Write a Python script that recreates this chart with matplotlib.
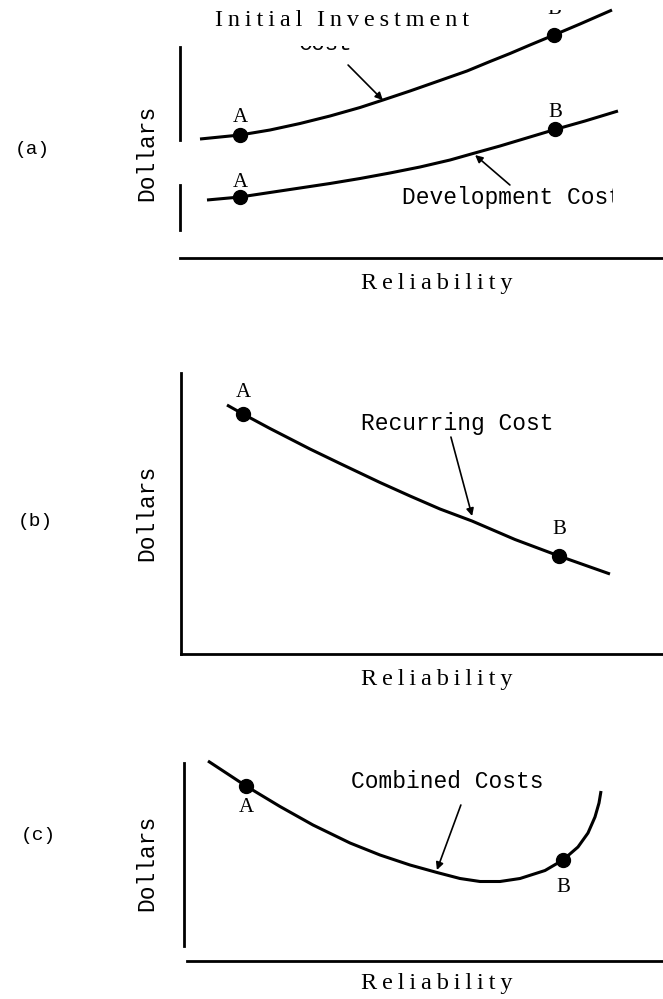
import matplotlib
matplotlib.use('Agg')
import matplotlib.pyplot as plt
from matplotlib.transforms import Bbox, TransformedBbox

# values, axes units 0-100 (reliability, dollars)
inv_rel = [4.14, 12.42, 18.63, 24.84, 31.06, 37.27, 42.03, 47.62, 53.83, 59.42,
           64.18, 68.32, 72.46, 77.43, 82.82, 89.44]
inv_cost = [46.12, 47.67, 49.61, 52.13, 55.04, 58.33, 61.24, 64.73, 68.80, 72.48,
            76.16, 79.26, 82.56, 86.43, 90.70, 96.12]
dev_rel = [5.59, 12.42, 18.63, 24.84, 31.06, 37.27, 43.48, 49.69, 55.90, 60.66,
           66.25, 72.46, 77.64, 83.85, 90.68]
dev_cost = [22.48, 23.64, 25.39, 27.13, 28.88, 30.81, 32.95, 35.27, 37.98, 40.50,
            43.41, 46.90, 49.81, 53.10, 56.98]

rec_rel = [9.54, 12.86, 18.46, 26.76, 32.99, 41.29, 47.51, 53.73, 60.37, 69.29, 78.42, 89.00]
rec_cost = [88.61, 85.41, 80.25, 72.95, 67.79, 61.03, 56.23, 51.60, 47.33, 40.75, 34.88, 28.47]

comb_rel = [5.01, 8.98, 12.94, 20.04, 26.93, 34.66, 40.92, 47.18, 52.82, 57.62,
            61.80, 65.97, 70.15, 75.37, 79.12, 82.25, 84.34, 85.80, 86.64, 87.06]
comb_cost = [100.0, 93.75, 87.5, 77.25, 68.0, 59.0, 53.0, 48.0, 44.25, 41.25,
             39.75, 39.75, 41.25, 45.25, 50.5, 57.0, 64.0, 72.0, 79.0, 85.0]

# design points A and B on each curve
inv_ab = [(12.42, 47.67), (77.43, 86.43)]
dev_ab = [(12.42, 23.64), (77.64, 49.81)]
rec_ab = [(12.86, 85.41), (78.42, 34.88)]
comb_ab = [(12.94, 87.5), (79.12, 50.5)]

W, H = 663, 999
fig = plt.figure(figsize=(W / 100, H / 100), dpi=100)

mono = 'Liberation Mono'
serif = 'Liberation Serif'
THIN = '\u2009'


def px_axes(x0, x1, y_top, y_bot):
    return fig.add_axes([x0 / W, 1 - y_bot / H, (x1 - x0) / W, (y_bot - y_top) / H])


def fig_box(x0, y0, x1, y1):
    # pixel box measured from the top-left corner
    return TransformedBbox(Bbox([[x0 / W, 1 - y1 / H], [x1 / W, 1 - y0 / H]]),
                           fig.transFigure)


def setup(ax):
    ax.set_xlim(0, 100)
    ax.set_ylim(0, 100)
    ax.set_xticks([])
    ax.set_yticks([])
    for s in ['top', 'right']:
        ax.spines[s].set_visible(False)
    for s in ['left', 'bottom']:
        ax.spines[s].set_linewidth(2.0)
    ax.patch.set_alpha(0)


def point_label(ax, lab, xy, dy):
    return ax.annotate(lab, xy, xytext=(0, dy * 0.72), textcoords='offset points',
                       ha='center', va='center', family=serif, fontsize=15,
                       annotation_clip=False)


def curve(ax, xs, ys, ab, above=True, offs=(22, 22)):
    ax.plot(xs, ys, color='black', lw=2.2, solid_joinstyle='round',
            solid_capstyle='butt', clip_on=False)
    for (x, y), lab, off in zip(ab, ['A', 'B'], offs):
        ax.plot(x, y, 'o', color='black', ms=10, clip_on=False)
        if off is None:
            continue
        point_label(ax, lab, (x, y), off if above else -off)


def arrow(ax, tail, head):
    ax.annotate('', xy=head, xytext=tail,
                arrowprops=dict(arrowstyle='-|>', lw=1.2, color='black',
                                mutation_scale=11, shrinkA=0, shrinkB=0))


def spaced(s):
    return (THIN * 3).join(THIN.join(w) for w in s.split(' '))


# ---------- (a) ----------
ax1 = px_axes(180, 663, 0, 258)
setup(ax1)
ax1.spines['left'].set_bounds(45.7, 81.8)
ax1.axvline(0, ymin=0.109, ymax=0.283, color='black', lw=2.0, clip_on=False)
curve(ax1, inv_rel, inv_cost, inv_ab, offs=(18, None))
curve(ax1, dev_rel, dev_cost, dev_ab, offs=(15, 17))
arrow(ax1, (34.8, 74.8), (42.0, 61.2))
arrow(ax1, (68.3, 28.3), (61.1, 39.9))

b_lab = point_label(ax1, 'B', inv_ab[1], 26)
b_lab.set_clip_box(fig_box(0, 10, W, H))
b_lab.set_clip_on(True)

ax1.text(33.5, 92.2, spaced('Initial Investment'), family=serif, fontsize=17.5,
         ha='center', va='center', clip_on=False)
t = ax1.text(30.2, (258 - 50) / 2.58, 'Cost', family=mono, fontsize=16,
             ha='center', va='baseline')
t.set_clip_box(fig_box(0, 46, W, H))
t.set_clip_on(True)
t = ax1.text(46.0, 23.6, 'Development Cost', family=mono, fontsize=16.5,
             ha='left', va='center')
t.set_clip_box(fig_box(0, 0, 613, H))
t.set_clip_on(True)

# ---------- (b) ----------
ax2 = px_axes(181, 663, 373, 654)
setup(ax2)
curve(ax2, rec_rel, rec_cost, rec_ab, offs=(21, 26))
arrow(ax2, (56.0, 77.2), (60.4, 49.1))
ax2.text(57.3, 82.2, 'Recurring Cost', family=mono, fontsize=16.5,
         ha='center', va='center')

# ---------- (c) ----------
ax3 = px_axes(184, 663, 761, 961)
setup(ax3)
ax3.spines['left'].set_bounds(7.5, 99)
ax3.spines['bottom'].set_bounds(0.6, 100)
curve(ax3, comb_rel, comb_cost, comb_ab, above=False, offs=(22, 28))
arrow(ax3, (57.8, 78.0), (52.8, 45.5))
ax3.text(54.9, 89.5, 'Combined Costs', family=mono, fontsize=16.5,
         ha='center', va='center')

# axis titles and panel tags
for yc in [283, 680, 983]:
    fig.text(437 / W, 1 - yc / H, spaced('Reliability'), family=serif, fontsize=17.5,
             ha='center', va='center')
for yc in [153, 513, 863]:
    fig.text(147 / W, 1 - yc / H, 'Dollars', family=mono, fontsize=16.5,
             rotation=90, ha='center', va='center')
for lab, (xc, yc) in zip(['(a)', '(b)', '(c)'], [(32, 150), (35, 522), (38, 835)]):
    fig.text(xc / W, 1 - yc / H, lab, family=mono, fontsize=14,
             ha='center', va='center')

fig.savefig('out.png', dpi=100)
